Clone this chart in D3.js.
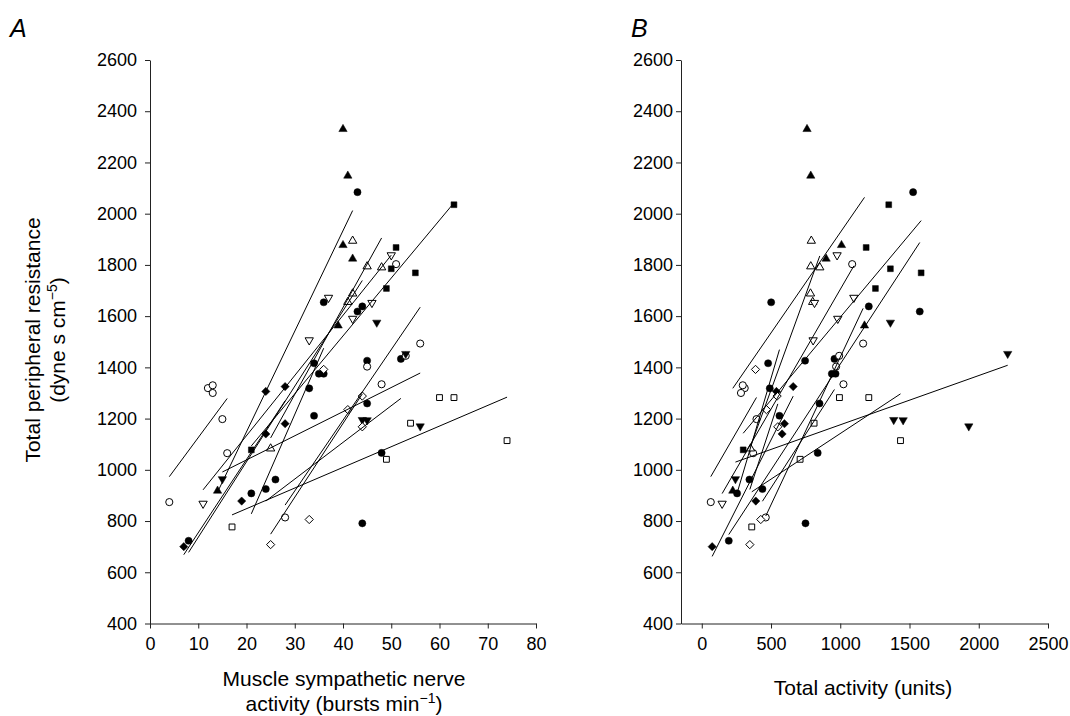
<!DOCTYPE html>
<html><head><meta charset="utf-8">
<script src="https://cdn.jsdelivr.net/npm/d3@7"></script>
<style>
body{margin:0;background:#fff}
svg{display:block}
text{font-family:"Liberation Sans",Arial,Helvetica,sans-serif;fill:#000}
</style>
</head><body>
<svg id="c" width="1070" height="716"></svg>
<script>
// Each subject: [MSNA bursts/min, total activity units, TPR dyne s cm^-5]
const fcP = [[8,195,723],[35,939,1375],[36,966,1375],[44,1206,1638],[43,1574,1618],[43,1526,2084]];
const fcQ = [[24,438,925],[45,850,1259],[48,837,1066],[52,958,1433],[44,749,791],[45,746,1426]];
const fcR = [[21,255,908],[26,344,962],[33,491,1318],[34,561,1211],[34,479,1416],[36,501,1654]];
const oc1 = [[4,65,874],[12,310,1319],[13,296,1330],[13,283,1300],[15,395,1198],[16,371,1065]];
const oc2 = [[28,462,814],[45,970,1403],[48,1023,1334],[51,1086,1803],[56,1165,1493],[53,992,1445]];
const ftu = [[14,224,918],[39,1175,1563],[40,1009,1877],[41,787,2148],[40,760,2330],[42,898,1824]];
const otu = [[25,352,1083],[42,791,1894],[48,852,1790],[45,787,1794],[42,785,1688],[41,801,1655]];
const ftd = [[15,243,964],[44,1386,1195],[45,1454,1194],[56,1928,1170],[47,1362,1575],[53,2209,1453]];
const otd = [[11,147,868],[33,804,1506],[37,1098,1672],[42,982,1590],[46,814,1652],[50,977,1838]];
const fsq = [[21,299,1078],[49,1254,1708],[50,1362,1785],[51,1187,1868],[55,1584,1769],[63,1350,2035]];
const osq = [[17,361,777],[49,710,1041],[54,811,1182],[60,994,1282],[63,1206,1282],[74,1435,1114]];
const fdi = [[7,75,700],[19,390,878],[24,580,1140],[24,539,1306],[28,597,1180],[28,660,1325]];
const odi = [[25,347,708],[33,426,806],[36,388,1392],[41,467,1235],[44,544,1288],[44,549,1168]];

const yTicks = [400,600,800,1000,1200,1400,1600,1800,2000,2200,2400,2600];
const xTicksA = [0,10,20,30,40,50,60,70,80];
const xTicksB = [0,500,1000,1500,2000,2500];

const subjects = [
  {d:fcP, s:'circle', f:true}, {d:fcQ, s:'circle', f:true}, {d:fcR, s:'circle', f:true},
  {d:oc1, s:'circle', f:false}, {d:oc2, s:'circle', f:false},
  {d:ftu, s:'up', f:true}, {d:otu, s:'up', f:false},
  {d:ftd, s:'down', f:true}, {d:otd, s:'down', f:false},
  {d:fsq, s:'square', f:true}, {d:osq, s:'square', f:false},
  {d:fdi, s:'diamond', f:true}, {d:odi, s:'diamond', f:false}
];

const svg = d3.select('#c');
const y = d3.scaleLinear().domain([400,2600]).range([623.5,60]);
const xA = d3.scaleLinear().domain([0,80]).range([150,536]);
const xB = d3.scaleLinear().domain([-150,2500]).range([681,1048]);

const diamondType = {draw(ctx, size){ const r = Math.sqrt(size/2); ctx.moveTo(0,-r); ctx.lineTo(r,0); ctx.lineTo(0,r); ctx.lineTo(-r,0); ctx.closePath(); }};
function symPath(s){
  if(s==='circle') return d3.symbol().type(d3.symbolCircle).size(40)();
  if(s==='square') return d3.symbol().type(d3.symbolSquare).size(34)();
  if(s==='diamond') return d3.symbol().type(diamondType).size(34)();
  return d3.symbol().type(d3.symbolTriangle).size(30)();
}

function panel(x, xi, xTicks, pad){
  const gy = svg.append('g').attr('transform',`translate(${x.range()[0]},0)`)
    .call(d3.axisLeft(y).tickValues(yTicks).tickSize(5).tickSizeOuter(0).tickPadding(pad).tickFormat(d3.format('d')));
  const gx = svg.append('g').attr('transform',`translate(0,${y(400)})`)
    .call(d3.axisBottom(x).tickValues(xTicks).tickSize(5).tickSizeOuter(0).tickPadding(9).tickFormat(d3.format('d')));
  [gy,gx].forEach(g=>{
    g.selectAll('path,line').attr('stroke','#222').attr('stroke-width',1);
    g.selectAll('text').attr('font-size',18).attr('font-family','"Liberation Sans",Arial,sans-serif');
  });
  const g = svg.append('g');
  subjects.forEach(sb=>{
    sb.d.forEach(p=>{
      g.append('path').attr('d',symPath(sb.s))
        .attr('transform',`translate(${x(p[xi])},${y(p[2])})${sb.s==='down'?' rotate(180)':''}`)
        .attr('fill',sb.f?'#000':'#fff').attr('stroke','#000').attr('stroke-width',sb.f?0.5:1);
    });
  });
  subjects.forEach(sb=>{
    const xs = sb.d.map(p=>p[xi]), ys = sb.d.map(p=>p[2]);
    const mx = d3.mean(xs), my = d3.mean(ys);
    const sxy = d3.sum(xs.map((v,i)=>(v-mx)*(ys[i]-my)));
    const sxx = d3.sum(xs.map(v=>(v-mx)*(v-mx)));
    const b = sxy/sxx, a = my - b*mx;
    const x0 = d3.min(xs), x1 = d3.max(xs);
    g.append('line').attr('x1',x(x0)).attr('y1',y(a+b*x0)).attr('x2',x(x1)).attr('y2',y(a+b*x1))
      .attr('stroke','#000').attr('stroke-width',1);
  });
}
panel(xA, 0, xTicksA, 8);
panel(xB, 1, xTicksB, 3);

// panel letters
svg.append('text').attr('x',10).attr('y',37).attr('font-size',25).attr('font-style','italic').text('A');
svg.append('text').attr('x',631).attr('y',37).attr('font-size',25).attr('font-style','italic').text('B');

// y title
const yt = svg.append('text').attr('transform','translate(40,340) rotate(-90)').attr('text-anchor','middle').attr('font-size',21);
yt.append('tspan').attr('x',0).attr('y',0).text('Total peripheral resistance');
const yt2 = svg.append('text').attr('transform','translate(65,340) rotate(-90)').attr('text-anchor','middle').attr('font-size',21);
yt2.append('tspan').text('(dyne s cm');
yt2.append('tspan').attr('font-size',14).attr('dy',-8).text('−5');
yt2.append('tspan').attr('dy',8).text(')');

// x titles
svg.append('text').attr('x',344).attr('y',686).attr('text-anchor','middle').attr('font-size',21).text('Muscle sympathetic nerve');
const xt = svg.append('text').attr('x',344).attr('y',711).attr('text-anchor','middle').attr('font-size',21);
xt.append('tspan').text('activity (bursts min');
xt.append('tspan').attr('font-size',14).attr('dy',-8).text('−1');
xt.append('tspan').attr('dy',8).text(')');
svg.append('text').attr('x',863).attr('y',695).attr('text-anchor','middle').attr('font-size',21).text('Total activity (units)');
</script>
</body></html>
